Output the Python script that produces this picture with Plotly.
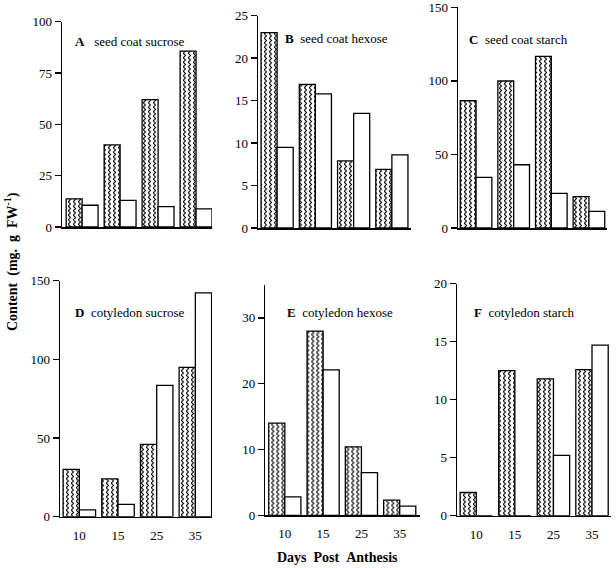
import plotly.graph_objects as go

days = ["10", "15", "25", "35"]

A_zig = [13.7, 40.0, 62.0, 85.7]
A_white = [10.6, 13.0, 9.9, 8.8]
B_zig = [23.0, 16.9, 7.9, 6.9]
B_white = [9.5, 15.8, 13.5, 8.6]
C_zig = [86.5, 99.9, 116.7, 21.3]
C_white = [34.4, 43.0, 23.6, 11.3]
D_zig = [30.1, 24.0, 46.0, 94.9]
D_white = [4.3, 7.8, 83.5, 142.2]
E_zig = [14.0, 28.0, 10.4, 2.3]
E_white = [2.8, 22.1, 6.5, 1.4]
F_zig = [2.0, 12.5, 11.8, 12.6]
F_white = [0.0, 0.0, 5.2, 14.7]

panel_letters = ["A", "B", "C", "D", "E", "F"]
panel_titles = ["seed coat sucrose", "seed coat hexose", "seed coat starch",
                "cotyledon sucrose", "cotyledon hexose", "cotyledon starch"]
y_ticks = [[0, 25, 50, 75, 100], [0, 5, 10, 15, 20, 25], [0, 50, 100, 150],
           [0, 50, 100, 150], [0, 10, 20, 30], [0, 5, 10, 15, 20]]
y_tops = [100, 25, 150, 150, 35, 20]

zig_series = [A_zig, B_zig, C_zig, D_zig, E_zig, F_zig]
white_series = [A_white, B_white, C_white, D_white, E_white, F_white]

W, H = 616, 568
# panel geometry in pixels: x0, x1, ytop, ybottom, xrange
geom = [
    (62, 212, 21.7, 227, [-0.53, 3.42]),
    (258, 411, 15.7, 228, [-0.50, 3.50]),
    (458, 607, 7.3, 228, [-0.48, 3.48]),
    (60, 212, 280.7, 516.7, [-0.50, 3.43]),
    (265.3, 420, 285, 515.3, [-0.51, 3.53]),
    (457, 611.3, 283.7, 515.7, [-0.50, 3.50]),
]
label_pos = [(73, 41.5, 3), (283, 38.7, 2), (466.5, 39.3, 2),
             (73, 312, 2), (285, 312, 2), (471.5, 312, 2)]

ZIG_KEY = "rgb(1, 2, 3)"
FONT = "Liberation Serif, Times New Roman, serif"

fig = go.Figure()
layout = dict(
    width=W, height=H, margin=dict(l=0, r=0, t=0, b=0, pad=0, autoexpand=False),
    paper_bgcolor="white", plot_bgcolor="white",
    showlegend=False, barmode="group", bargap=0.16, bargroupgap=0,
    font=dict(family=FONT, size=13, color="black"),
    hovermode=False,
)
annotations = []
for i in range(6):
    n = "" if i == 0 else str(i + 1)
    xa, ya = "x" + n, "y" + n
    fig.add_trace(go.Bar(x=days, y=zig_series[i], xaxis=xa, yaxis=ya,
                         marker=dict(color=ZIG_KEY, line=dict(color="black", width=1.3))))
    fig.add_trace(go.Bar(x=days, y=white_series[i], xaxis=xa, yaxis=ya,
                         marker=dict(color="white", line=dict(color="black", width=1.3))))
    x0, x1, yt, yb, xr = geom[i]
    bottom = i >= 3
    layout["xaxis" + n] = dict(
        domain=[x0 / W, x1 / W], anchor=ya, range=xr, type="category",
        automargin=False,
        showline=True, linecolor="black", linewidth=1.5, ticks="",
        showticklabels=bottom, showgrid=False, zeroline=False,
        tickfont=dict(family=FONT, size=13, color="black"), ticklabelstandoff=6,
    )
    layout["yaxis" + n] = dict(
        domain=[1 - yb / H, 1 - yt / H], anchor=xa, range=[0, y_tops[i]],
        automargin=False, ticklabeloverflow="allow",
        tickvals=y_ticks[i], ticks="outside", ticklen=6, tickwidth=1.5,
        tickcolor="black", showline=True, linecolor="black", linewidth=1.5,
        showgrid=False, zeroline=False,
        tickfont=dict(family=FONT, size=13, color="black"),
    )
    lx, ly, nsp = label_pos[i]
    annotations.append(dict(
        text="<b>" + panel_letters[i] + "</b>" + "\u00a0" * nsp + panel_titles[i],
        x=lx / W, y=1 - ly / H, xref="paper", yref="paper",
        xanchor="left", yanchor="middle", showarrow=False,
        font=dict(family=FONT, size=13, color="black"),
    ))

annotations.append(dict(
    text="<b>Content\u00a0\u00a0(mg.\u00a0\u00a0g\u00a0\u00a0FW<sup>-1</sup>)</b>",
    x=12 / W, y=1 - 262 / H, xref="paper", yref="paper", textangle=-90,
    xanchor="center", yanchor="middle", showarrow=False,
    font=dict(family=FONT, size=14, color="black"),
))
annotations.append(dict(
    text="<b>Days\u00a0\u00a0Post\u00a0\u00a0Anthesis</b>",
    x=337 / W, y=1 - 557 / H, xref="paper", yref="paper",
    xanchor="center", yanchor="middle", showarrow=False,
    font=dict(family=FONT, size=14, color="black"),
))
layout["annotations"] = annotations
fig.update_layout(**layout)

post_js = """
document.body.style.margin = '0';
document.body.style.padding = '0';
var gd = document.getElementById('{plot_id}');
var ns = 'http://www.w3.org/2000/svg';
var svg = gd.querySelector('svg.main-svg');
var defs = svg.querySelector('defs');
if (!defs) { defs = document.createElementNS(ns, 'defs'); svg.insertBefore(defs, svg.firstChild); }
var pat = document.createElementNS(ns, 'pattern');
pat.setAttribute('id', 'zigzagfill');
pat.setAttribute('patternUnits', 'userSpaceOnUse');
pat.setAttribute('width', '5');
pat.setAttribute('height', '4.5');
var bg = document.createElementNS(ns, 'rect');
bg.setAttribute('width', '5'); bg.setAttribute('height', '4.5'); bg.setAttribute('fill', 'white');
pat.appendChild(bg);
var pth = document.createElementNS(ns, 'path');
pth.setAttribute('d', 'M1.2,0 L3.6,2.25 L1.2,4.5');
pth.setAttribute('stroke', 'black'); pth.setAttribute('stroke-width', '1');
pth.setAttribute('fill', 'none');
pat.appendChild(pth);
defs.appendChild(pat);
gd.querySelectorAll('.barlayer path').forEach(function(p) {
  if (p.style.fill === '""" + ZIG_KEY + """') { p.style.fill = 'url(#zigzagfill)'; }
});
"""

fig.write_html("out.html", post_script=post_js, config={"displayModeBar": False, "staticPlot": True})
